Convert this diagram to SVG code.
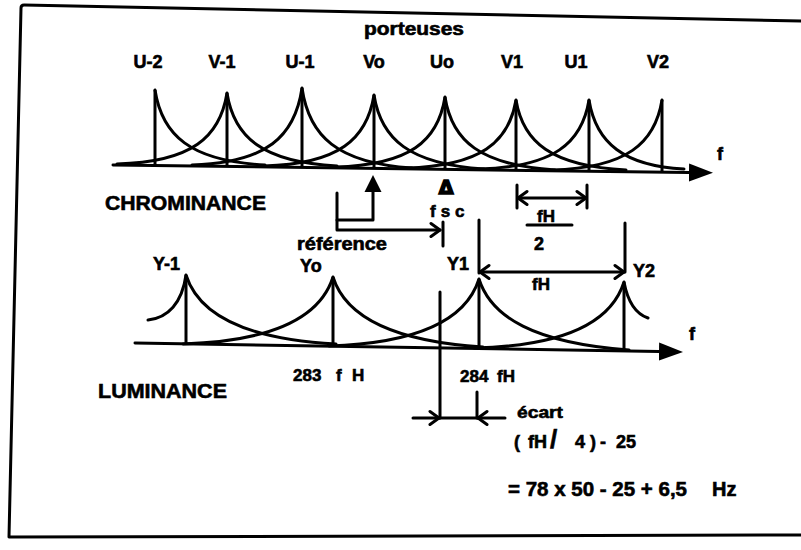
<svg xmlns="http://www.w3.org/2000/svg" width="801" height="550" viewBox="0 0 801 550">
<defs>
<style>
.ln{fill:none;stroke:#000;stroke-width:3;stroke-linecap:round;stroke-linejoin:round}
.sp{fill:none;stroke:#000;stroke-width:3}
.t{font-family:"Liberation Sans",Arial,Helvetica,sans-serif;font-weight:bold;fill:#000;stroke:#000;stroke-width:0.6}
.c{text-anchor:middle}
</style>
<marker id="big" markerUnits="userSpaceOnUse" viewBox="0 -10 26 20" markerWidth="26" markerHeight="20" refX="0" refY="0" orient="auto"><path d="M0,-9 L24,0 L0,9 z" fill="#000"/></marker>
<marker id="tri" markerUnits="userSpaceOnUse" viewBox="0 -9 18 18" markerWidth="18" markerHeight="18" refX="0" refY="0" orient="auto"><path d="M0,-8.5 L17,0 L0,8.5 z" fill="#000"/></marker>
<marker id="vee" markerUnits="userSpaceOnUse" viewBox="-12 -9 14 18" markerWidth="14" markerHeight="18" refX="0" refY="0" orient="auto-start-reverse"><path d="M-9,-6.5 L0,0 L-9,6.5" fill="none" stroke="#000" stroke-width="3" stroke-linejoin="round" stroke-linecap="round"/></marker>
</defs>
<rect width="801" height="550" fill="#fff"/>
<g id="frame"><path class="ln" d="M801,21 L24,5 Q21,5 21,8 L9,537 L801,535"/></g>

<g id="titles">
<text class="t c" x="414" y="35" font-size="18" textLength="100" lengthAdjust="spacingAndGlyphs">porteuses</text>
<text class="t" x="105" y="210" font-size="21" textLength="161" lengthAdjust="spacingAndGlyphs">CHROMINANCE</text>
<text class="t" x="98" y="398" font-size="21" textLength="129" lengthAdjust="spacingAndGlyphs">LUMINANCE</text>
</g>

<g id="chroma-carriers">
<g id="U-2"><text class="t c" x="148" y="68" font-size="18">U-2</text><path class="sp" d="M155,90 V166"/><path class="ln" d="M155,90 C162,135 190,161 265,165"/></g>
<g id="V-1"><text class="t c" x="222" y="68" font-size="18">V-1</text><path class="sp" d="M227,93 V167"/><path class="ln" d="M227,93 C220,137 192,162 117,164 M227,93 C234,137 262,162 337,166"/></g>
<g id="U-1"><text class="t c" x="300" y="68" font-size="18">U-1</text><path class="sp" d="M302,88 V168"/><path class="ln" d="M302,88 C295,136 267,163 192,165 M302,88 C309,136 337,163 412,168"/></g>
<g id="Vo"><text class="t c" x="374" y="68" font-size="18">Vo</text><path class="sp" d="M374,95 V169"/><path class="ln" d="M374,95 C367,139 339,164 264,166 M374,95 C381,139 409,164 484,169"/></g>
<g id="Uo"><text class="t c" x="442" y="68" font-size="18">Uo</text><path class="sp" d="M445,97 V170"/><path class="ln" d="M445,97 C438,141 410,165 335,167 M445,97 C452,141 480,165 555,170"/></g>
<g id="V1"><text class="t c" x="512" y="68" font-size="18">V1</text><path class="sp" d="M516,100 V171"/><path class="ln" d="M516,100 C509,142 481,166 406,168 M516,100 C523,142 551,166 626,170"/></g>
<g id="U1"><text class="t c" x="576" y="68" font-size="18">U1</text><path class="sp" d="M589,100 V172"/><path class="ln" d="M589,100 C582,143 554,167 479,169 M589,100 C596,143 624,166 684,169"/></g>
<g id="V2"><text class="t c" x="658" y="68" font-size="18">V2</text><path class="sp" d="M662,100 V173"/><path class="ln" d="M662,100 C655,143 627,168 552,170"/></g>
</g>

<g id="luma-carriers">
<g id="Y-1"><text class="t" x="153" y="270" font-size="18">Y-1</text><path class="sp" d="M186,275 V344"/><path class="ln" d="M186,275 C182,303 168,318 148,320 M186,275 C198,313 241,339 336,344"/></g>
<g id="Yo"><text class="t" x="300" y="272" font-size="18">Yo</text><path class="sp" d="M333,277 V346"/><path class="ln" d="M333,277 C321,315 278,341 183,344 M333,277 C345,315 388,341 483,347"/></g>
<g id="Y1"><text class="t" x="447" y="270" font-size="18">Y1</text><path class="sp" d="M479,279 V349"/><path class="ln" d="M479,279 C467,317 424,343 329,346 M479,279 C491,317 534,343 629,350"/></g>
<g id="Y2"><text class="t" x="633" y="277" font-size="18">Y2</text><path class="sp" d="M624,282 V351"/><path class="ln" d="M624,282 C612,320 569,346 474,348 M624,282 C628,303 636,314 648,318"/></g>
</g>

<g id="connectors">
<path class="ln" d="M113,165 L689,172.5" marker-end="url(#big)"/>
<path class="ln" d="M135,343 L659,351.5" marker-end="url(#big)"/>
<path class="ln" d="M337,193 V220 H373 V192" marker-end="url(#tri)"/>
<path class="ln" d="M337,220 V230 H440" marker-end="url(#vee)"/>
<path class="ln" d="M443,222 V246"/>
<path class="ln" d="M517,185 V208 M587,185 V208"/>
<path class="ln" d="M518,198 H586" marker-start="url(#vee)" marker-end="url(#vee)"/>
<path class="ln" d="M527,225 H572"/>
<path class="ln" d="M479,220 V273 M625,223 V272"/>
<path class="ln" d="M480,272 H624" marker-start="url(#vee)" marker-end="url(#vee)"/>
<path class="ln" d="M440,292 V418"/>
<path class="ln" d="M477,392 V418"/>
<path class="ln" d="M413,418 H439" marker-end="url(#vee)"/>
<path class="ln" d="M505,418 H478" marker-end="url(#vee)"/>
<path class="ln" d="M439,418 H478"/>
</g>

<g id="labels">
<text class="t" x="717" y="160" font-size="18">f</text>
<text class="t" x="689" y="340" font-size="18">f</text>
<text class="t c" x="446" y="194" font-size="19" style="font-family:'DejaVu Sans',sans-serif;stroke-width:1.6">Δ</text>
<text class="t" x="430" y="217" font-size="17" letter-spacing="5">fsc</text>
<text class="t" x="297" y="250" font-size="18" textLength="90" lengthAdjust="spacingAndGlyphs">référence</text>
<text class="t" x="537" y="222" font-size="17">fH</text>
<text class="t c" x="539" y="250" font-size="18">2</text>
<text class="t" x="532" y="290" font-size="17">fH</text>
<text class="t" x="293" y="381" font-size="17">283<tspan x="336">f</tspan><tspan x="352">H</tspan></text>
<text class="t" x="460" y="382" font-size="17">284<tspan x="497">fH</tspan></text>
<text class="t" x="517" y="418" font-size="17" textLength="46" lengthAdjust="spacingAndGlyphs">écart</text>
<text class="t" x="514" y="448" font-size="18">(<tspan x="528">fH</tspan><tspan x="550" font-size="26">/</tspan><tspan x="575">4</tspan><tspan x="590">)</tspan><tspan x="600">-</tspan><tspan x="616">25</tspan></text>
<text class="t" x="508" y="496" font-size="20" textLength="179" lengthAdjust="spacingAndGlyphs">= 78 x 50 - 25 + 6,5</text>
<text class="t" x="712" y="496" font-size="20">Hz</text>
</g>
</svg>
